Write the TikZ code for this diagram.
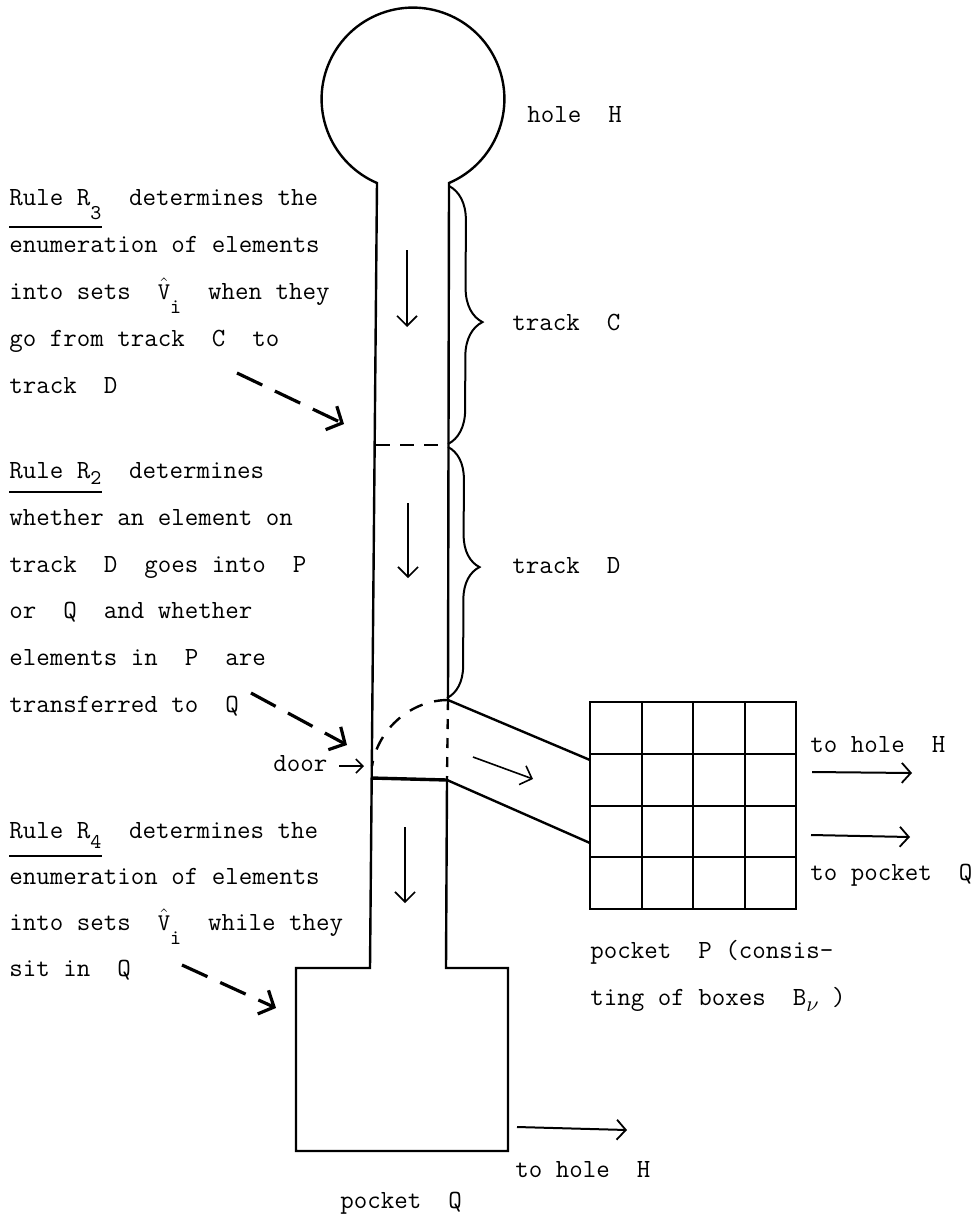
\documentclass[tikz,border=0pt]{standalone}
\usetikzlibrary{arrows.meta,decorations.pathreplacing}
\newcommand{\lsub}[2]{\raisebox{-#1}{\fontsize{10.5}{10.5}\selectfont #2}}
\newcommand{\hatV}{$\hat{\mathtt{V}}$}
\begin{document}
\begin{tikzpicture}[x=0.5pt,y=-0.5pt,
  wall/.style={line width=1.2pt},
  thin wall/.style={line width=1pt},
  ln/.style={anchor=base west,inner sep=0pt,font=\ttfamily\fontsize{13.1}{16}\selectfont},
  downarr/.style={line width=0.8pt,-{Straight Barb[length=5pt,width=10pt,line width=0.8pt]}},
  rulearr/.style={line width=1.6pt,dash pattern=on 14pt off 7pt,-{Straight Barb[length=6pt,width=13pt,line width=1.6pt]}},
  outarr/.style={line width=1pt,-{Straight Barb[length=4.5pt,width=10pt,line width=0.9pt]}},
  smallarr/.style={line width=0.8pt,-{Straight Barb[length=3.5pt,width=7pt,line width=0.8pt]}},
  bracec/.style={decorate,decoration={brace,amplitude=17pt,aspect=0.527},line width=1pt},
  braced/.style={decorate,decoration={brace,amplitude=16pt,aspect=0.478},line width=1pt},
]
\useasboundingbox (0,0) rectangle (977,1215);

% ---------- key points of the tube ----------
\coordinate (lwT) at (377,183);
\coordinate (lwB) at (370,968);
\coordinate (rwT) at (449,183);
\coordinate (rwD) at (448,700);
\coordinate (rwE) at (447,780);
\coordinate (rwB) at (446,968);
\coordinate (dl)  at (371,778);
\coordinate (qTL) at (296,968);
\coordinate (qBL) at (296,1151);
\coordinate (qBR) at (508,1151);
\coordinate (qTR) at (508,968);

% hole H + tube + pocket Q outline
\draw[wall] (rwD) -- (rwT) arc[start angle=66.8, end angle=-246.8, radius=91.4]
  -- (lwB) -- (qTL) -- (qBL) -- (qBR) -- (qTR) -- (rwB) -- (rwE);

% boundary between track C and track D
\draw[wall,dash pattern=on 7pt off 5pt] (376,445) -- (448,445);

% door region
\draw[wall,dash pattern=on 5pt off 4.5pt] (rwD) -- (rwE);
\draw[line width=1.7pt] (dl) -- (rwE);
\draw[wall,dash pattern=on 7pt off 6pt] (rwD) .. controls (412,700) and (378,728) .. (372,766);

% channel to pocket P
\coordinate (pTL) at (590,702);
\coordinate (pBR) at (796,909);
\draw[wall] (rwD) -- (590,760);
\draw[wall] (rwE) -- (590,843);

% pocket P grid
\draw[wall] (pTL) rectangle (pBR);
\foreach \i in {1,2,3}{
  \draw[thin wall] ({590+51.5*\i},702) -- ({590+51.5*\i},909);
  \draw[thin wall] (590,{702+51.75*\i}) -- (796,{702+51.75*\i});
}

% braces
\draw[bracec] (449,186) -- (448,444);
\draw[braced] (448,447) -- (447,698);

% flow arrows inside the tube
\draw[downarr] (407,250) -- (407,327);
\draw[downarr] (408,503) -- (408,578);
\draw[downarr] (405,827) -- (405,903);
\draw[downarr] (473,757) -- (533,779);

% ---------- labels on the right ----------
\node[ln] (holeH) at (527,122) {hole~~H};
\node[ln] (trC) at (512,330) {track~~C};
\node[ln] (trD) at (512,573) {track~~D};
\node[ln] (toH1) at (810,752) {to hole~~H};
\node[ln] (toQ) at (810,880) {to pocket~~Q};
\node[ln] (pP1) at (590,958) {pocket~~P (consis-};
\node[ln] (pP2) at (590,1005) {ting of boxes~~B\lsub{3pt}{$\nu$}~)};
\node[ln] (toH2) at (515,1177) {to hole~~H};
\node[ln] (pQ) at (340,1208) {pocket~~Q};

\draw[outarr] (812,772) -- (912,773);
\draw[outarr] (811,835) -- (910,837);
\draw[outarr] (517,1127) -- (627,1130);

% door
\node[ln] (door) at (273,771) {door};
\coordinate (doortip) at (364,766);
\draw[smallarr] (339,766) -- (doortip);

% ---------- rule R3 ----------
\node[ln] (r3u) at (9,205) {Rule R\lsub{7pt}{3}};
\draw[line width=0.9pt] ([yshift=-11pt]r3u.base west) -- ([yshift=-11pt]r3u.base east);
\node[ln] (r3a) at (r3u.base east) {~~determines the};
\node[ln] (r3b) at (9,252) {enumeration of elements};
\node[ln] (r3c) at (9,299) {into sets~~\hatV\lsub{7pt}{i}~~when they};
\node[ln] (r3d) at (9,346) {go from track~~C~~to};
\node[ln] (r3e) at (9,393) {track~~D};
\coordinate (r3s) at (237,373);
\coordinate (r3t) at (344,424);
\draw[rulearr] (r3s) -- (r3t);

% ---------- rule R2 ----------
\node[ln] (r2u) at (9,478) {Rule R\lsub{3pt}{2}};
\draw[line width=0.9pt] ([yshift=-7pt]r2u.base west) -- ([yshift=-7pt]r2u.base east);
\node[ln] (r2a) at (r2u.base east) {~~determines};
\node[ln] (r2b) at (9,525) {whether an element on};
\node[ln] (r2c) at (9,572) {track~~D~~goes into~~P};
\node[ln] (r2d) at (9,618) {or~~Q~~and whether};
\node[ln] (r2e) at (9,665) {elements in~~P~~are};
\node[ln] (r2f) at (9,712) {transferred to~~Q};
\coordinate (r2s) at (251,693);
\coordinate (r2t) at (347,745);
\draw[rulearr] (r2s) -- (r2t);

% ---------- rule R4 ----------
\node[ln] (r4u) at (9,838) {Rule R\lsub{5pt}{4}};
\draw[line width=0.9pt] ([yshift=-9pt]r4u.base west) -- ([yshift=-9pt]r4u.base east);
\node[ln] (r4a) at (r4u.base east) {~~determines the};
\node[ln] (r4b) at (9,884) {enumeration of elements};
\node[ln] (r4c) at (9,930) {into sets~~\hatV\lsub{7pt}{i}~~while they};
\node[ln] (r4d) at (9,976) {sit in~~Q};
\coordinate (r4s) at (182,965);
\coordinate (r4t) at (276,1008);
\draw[rulearr] (r4s) -- (r4t);
\end{tikzpicture}
\end{document}
